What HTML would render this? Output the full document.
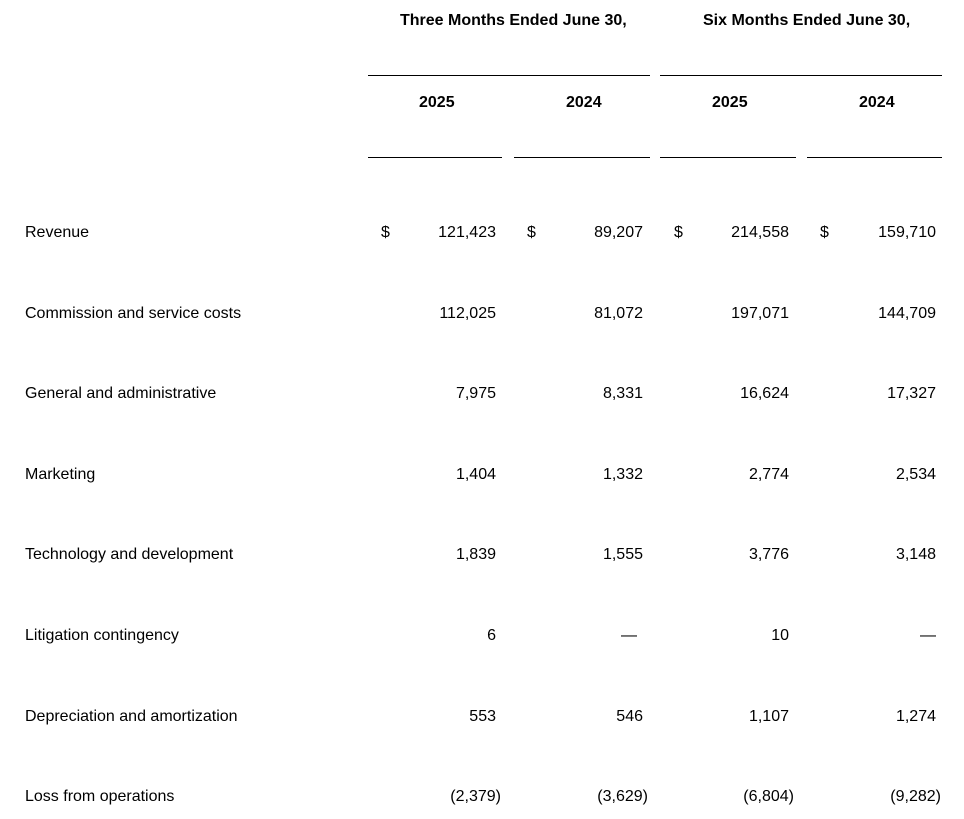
<!DOCTYPE html>
<html><head><meta charset="utf-8"><style>
body{margin:0;width:964px;height:819px;background:#fff;position:relative;font-family:"Liberation Sans",Arial,sans-serif;color:#000;overflow:hidden}
.t{position:absolute;font-size:16px;line-height:18px;white-space:nowrap}
.b{font-weight:bold}
.ln{position:absolute;height:1px;background:#000}
</style></head><body>
<div class="t b" style="left:400px;top:12px">Three Months Ended June 30,</div>
<div class="t b" style="left:703px;top:12px">Six Months Ended June 30,</div>
<div class="ln" style="left:368px;top:75px;width:282px"></div>
<div class="ln" style="left:660px;top:75px;width:282px"></div>
<div class="t b" style="left:419px;top:94px">2025</div>
<div class="t b" style="left:566px;top:94px">2024</div>
<div class="t b" style="left:712px;top:94px">2025</div>
<div class="t b" style="left:859px;top:94px">2024</div>
<div class="ln" style="left:368px;top:157px;width:134px"></div>
<div class="ln" style="left:514px;top:157px;width:136px"></div>
<div class="ln" style="left:660px;top:157px;width:136px"></div>
<div class="ln" style="left:807px;top:157px;width:135px"></div>
<script>
const labels=["Revenue","Commission and service costs","General and administrative","Marketing","Technology and development","Litigation contingency","Depreciation and amortization","Loss from operations"];
const q2025=["121,423","112,025","7,975","1,404","1,839","6","553","(2,379)"];
const q2024=["89,207","81,072","8,331","1,332","1,555","—","546","(3,629)"];
const h2025=["214,558","197,071","16,624","2,774","3,776","10","1,107","(6,804)"];
const h2024=["159,710","144,709","17,327","2,534","3,148","—","1,274","(9,282)"];
const cols=[q2025,q2024,h2025,h2024];
const rights=[496,643,789,936];
const dashRights=[496,637,789,936];
const dollarX=[381,527,674,820];
const root=document.body;
labels.forEach((lab,i)=>{
  const top=224+i*80.6;
  const l=document.createElement('div');
  l.className='t';l.style.left='25px';l.style.top=top+'px';l.textContent=lab;
  
  
  root.appendChild(l);
  cols.forEach((c,j)=>{
    const v=c[i];
    const d=document.createElement('div');
    d.className='t';
    let r=rights[j];
    if(v.startsWith('('))r+=5;
    if(v==='—')r=dashRights[j];
    d.style.right=(964-r)+'px';
    d.style.top=top+'px';d.textContent=v;
    
    
    root.appendChild(d);
    if(i===0){
      const s=document.createElement('div');
      s.className='t';s.style.left=dollarX[j]+'px';s.style.top=top+'px';s.textContent='$';
      
      
      root.appendChild(s);
    }
  });
});
</script>
</body></html>
